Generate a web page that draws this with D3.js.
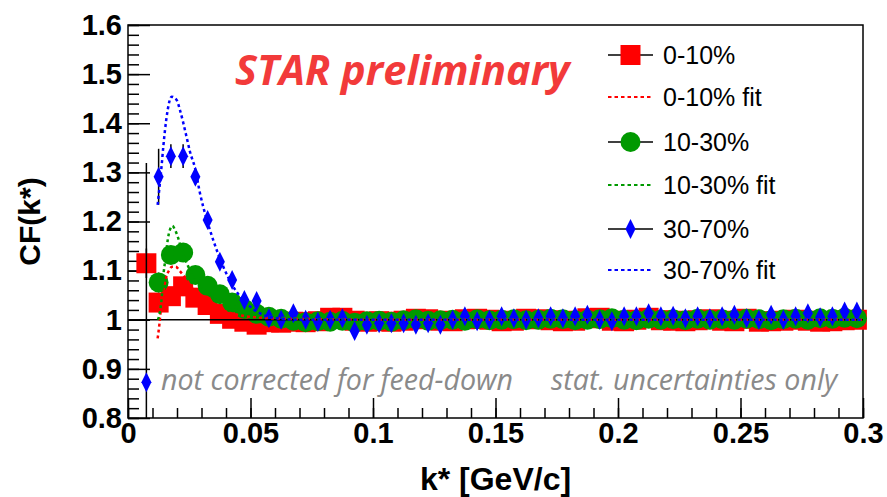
<!DOCTYPE html>
<html>
<head>
<meta charset="utf-8">
<script src="https://cdn.jsdelivr.net/npm/d3@7"></script>
<style>
  body { margin: 0; background: #fff; }
  svg { display: block; }
  .tick line { stroke: #000; stroke-width: 1.5; }
  .tick text { font-family: "Liberation Sans", Arial, sans-serif; font-weight: bold; font-size: 29px; fill: #000; }
</style>
</head>
<body>
<div id="chart"></div>
<script>
// bin centres of k* [GeV/c]
var kStar = [0.0075, 0.0125, 0.0175, 0.0225, 0.0275, 0.0325, 0.0375, 0.0425, 0.0475, 0.0525,
             0.0575, 0.0625, 0.0675, 0.0725, 0.0775, 0.0825, 0.0875, 0.0925, 0.0975, 0.1025,
             0.1075, 0.1125, 0.1175, 0.1225, 0.1275, 0.1325, 0.1375, 0.1425, 0.1475, 0.1525,
             0.1575, 0.1625, 0.1675, 0.1725, 0.1775, 0.1825, 0.1875, 0.1925, 0.1975, 0.2025,
             0.2075, 0.2125, 0.2175, 0.2225, 0.2275, 0.2325, 0.2375, 0.2425, 0.2475, 0.2525,
             0.2575, 0.2625, 0.2675, 0.2725, 0.2775, 0.2825, 0.2875, 0.2925, 0.2975];

// correlation function per centrality class
var cf0to10 = [1.115, 1.035, 1.048, 1.068, 1.045, 1.030, 1.012, 1.002, 0.996, 0.990,
               0.995, 0.994, 0.996, 0.995, 0.997, 1.004, 1.004, 0.998, 0.996, 0.997,
               0.996, 0.998, 1.002, 1.001, 0.998, 0.997, 1.001, 1.002, 1.000, 0.997,
               0.998, 1.002, 1.001, 0.999, 0.997, 0.998, 1.003, 1.004, 0.998, 0.997,
               1.000, 1.004, 0.999, 0.998, 0.997, 0.999, 1.001, 0.998, 0.997, 1.002,
               0.996, 0.997, 0.998, 1.000, 0.998, 0.996, 0.997, 0.999, 1.000];
var cf10to30 = [null, 1.076, 1.132, 1.137, 1.091, 1.069, 1.052, 1.035, 1.022, 1.012,
                1.006, 1.002, 0.998, 0.995, 0.997, 0.996, 0.998, 0.994, 0.997, 0.998,
                0.996, 0.999, 1.001, 0.998, 0.999, 1.000, 0.998, 1.001, 0.999, 1.000,
                1.001, 0.999, 1.000, 1.002, 1.001, 0.999, 1.000, 1.001, 1.003, 1.000,
                0.999, 1.002, 1.000, 1.001, 0.999, 1.002, 1.000, 1.001, 1.000, 1.002,
                1.001, 0.999, 1.001, 1.002, 1.000, 1.003, 1.002, 1.004, 1.003];
var cf30to70 = [0.873, 1.291, 1.333, 1.333, 1.291, 1.203, 1.118, 1.081, 1.040, 1.038,
                1.003, 1.000, 1.013, 1.000, 0.996, 1.000, 1.003, 0.977, 0.990, 0.993,
                0.993, 0.993, 0.990, 0.993, 0.990, 1.000, 1.007, 0.997, 1.000, 1.007,
                1.003, 1.000, 1.003, 1.007, 1.003, 1.007, 1.010, 1.000, 0.997, 1.007,
                1.007, 1.013, 1.007, 1.008, 1.003, 1.007, 1.003, 1.007, 1.010, 1.003,
                1.000, 1.010, 1.000, 1.007, 1.013, 1.005, 1.007, 1.017, 1.017];

// stat. errors of the first bins (the rest hide behind the markers)
var err0to10 = [0.030, 0.020, 0.016, 0.014, 0.012, 0.010, 0.009, 0.008];
var err10to30 = [null, 0.020, 0.014, 0.012, 0.010, 0.009, 0.008, 0.007];
var err30to70 = [0.446, 0.057, 0.024, 0.024, 0.016, 0.012, 0.010, 0.009];

// fit curves
var fit0to10K = [0.0121, 0.0128, 0.0136, 0.0145, 0.0155, 0.0167, 0.018, 0.0195, 0.021, 0.023,
                 0.0255, 0.028, 0.032, 0.036, 0.041, 0.047, 0.055, 0.065, 0.08, 0.1, 0.3];
var fit0to10V = [0.962, 0.990, 1.030, 1.060, 1.085, 1.100, 1.108, 1.108, 1.100, 1.088,
                 1.070, 1.055, 1.038, 1.025, 1.015, 1.008, 1.004, 1.002, 1.001, 1.000, 1.000];
var fit10to30K = [0.0122, 0.0128, 0.0138, 0.0144, 0.0154, 0.0162, 0.0171, 0.0181, 0.0192, 0.0205,
                  0.0219, 0.024, 0.0265, 0.029, 0.032, 0.036, 0.041, 0.047, 0.055, 0.065, 0.08, 0.1, 0.3];
var fit10to30V = [1.000, 1.010, 1.047, 1.088, 1.128, 1.162, 1.183, 1.191, 1.183, 1.166,
                  1.142, 1.115, 1.090, 1.072, 1.055, 1.040, 1.027, 1.016, 1.008, 1.003, 1.001, 1.000, 1.000];
var fit30to70K = [0.0121, 0.0138, 0.0144, 0.0151, 0.0162, 0.0178, 0.0199, 0.0212, 0.0226, 0.024,
                  0.0253, 0.0274, 0.0294, 0.0307, 0.0314, 0.0348, 0.0389, 0.043, 0.0485, 0.0539,
                  0.0607, 0.07, 0.085, 0.1, 0.3];
var fit30to70V = [1.234, 1.318, 1.352, 1.386, 1.427, 1.454, 1.447, 1.427, 1.400, 1.370,
                  1.342, 1.308, 1.257, 1.230, 1.217, 1.162, 1.108, 1.067, 1.033, 1.013,
                  1.003, 1.000, 1.000, 1.000, 1.000];

var legendLabels = ["0-10%", "0-10% fit", "10-30%", "10-30% fit", "30-70%", "30-70% fit"];
var xTicks = [0, 0.05, 0.1, 0.15, 0.2, 0.25, 0.3];
var yTicks = [0.8, 0.9, 1, 1.1, 1.2, 1.3, 1.4, 1.5, 1.6];

var width = 887, height = 497;
var plot = {left: 128, right: 863, top: 25, bottom: 418};

var svg = d3.select("#chart").append("svg")
    .attr("width", width)
    .attr("height", height);

var x = d3.scaleLinear().domain([0, 0.3]).range([plot.left, plot.right]);
var y = d3.scaleLinear().domain([0.8, 1.6]).range([plot.bottom, plot.top]);

svg.append("clipPath").attr("id", "clip")
  .append("rect")
    .attr("x", plot.left).attr("y", plot.top)
    .attr("width", plot.right - plot.left).attr("height", plot.bottom - plot.top);

var fmt = function(d) { return String(+d.toFixed(2)); };

// axes: minor ticks first, then major with labels (ticks point into the frame)
svg.append("g")
    .attr("transform", "translate(0," + plot.bottom + ")")
    .call(d3.axisBottom(x).tickValues(d3.range(0, 0.3001, 0.01)).tickSize(-10).tickFormat(""))
    .call(function(g) { g.select(".domain").remove(); });
svg.append("g")
    .attr("transform", "translate(0," + plot.bottom + ")")
    .call(d3.axisBottom(x).tickValues(xTicks).tickSize(-20).tickPadding(4).tickFormat(fmt))
    .call(function(g) { g.select(".domain").remove(); });
svg.append("g")
    .attr("transform", "translate(" + plot.left + ",0)")
    .call(d3.axisLeft(y).tickValues(d3.range(0.8, 1.6001, 0.02)).tickSize(-11).tickFormat(""))
    .call(function(g) { g.select(".domain").remove(); });
svg.append("g")
    .attr("transform", "translate(" + plot.left + ",0)")
    .call(d3.axisLeft(y).tickValues(yTicks).tickSize(-22).tickPadding(6).tickFormat(fmt))
    .call(function(g) { g.select(".domain").remove(); });

svg.append("rect")
    .attr("x", plot.left).attr("y", plot.top)
    .attr("width", plot.right - plot.left).attr("height", plot.bottom - plot.top)
    .attr("fill", "none").attr("stroke", "#000").attr("stroke-width", 1.5);

// axis titles
svg.append("text")
    .attr("x", (plot.left + plot.right) / 2).attr("y", 490)
    .attr("text-anchor", "middle")
    .style("font", "bold 32px 'Liberation Sans', Arial, sans-serif")
    .text("k* [GeV/c]");
svg.append("text")
    .attr("transform", "translate(39.5," + (plot.top + plot.bottom) / 2 + ") rotate(-90)")
    .attr("text-anchor", "middle")
    .style("font", "bold 30px 'Liberation Sans', Arial, sans-serif")
    .text("CF(k*)");

var series = [
  {name: "0-10%", vals: cf0to10, errs: err0to10, color: "#ff0000", shape: "square",
   fitK: fit0to10K, fitV: fit0to10V},
  {name: "10-30%", vals: cf10to30, errs: err10to30, color: "#009900", shape: "circle",
   fitK: fit10to30K, fitV: fit10to30V},
  {name: "30-70%", vals: cf30to70, errs: err30to70, color: "#0000ff", shape: "diamond",
   fitK: fit30to70K, fitV: fit30to70V}
];

function markerPath(shape) {
  if (shape === "square") return "M-10,-10H10V10H-10Z";
  if (shape === "circle") return "M-10,0A10,10 0 1,0 10,0A10,10 0 1,0 -10,0Z";
  return "M0,-10L5,0L0,10L-5,0Z";
}

var dataLayer = svg.append("g");

series.forEach(function(s) {
    var pts = kStar.map(function(k, i) { return {k: k, v: s.vals[i], e: s.errs[i]}; })
        .filter(function(d) { return d.v != null; });

    // error bars
    dataLayer.append("g").attr("clip-path", "url(#clip)")
      .selectAll("line")
      .data(pts.filter(function(d) { return d.e != null; }))
      .enter().append("line")
        .attr("x1", function(d) { return x(d.k); })
        .attr("x2", function(d) { return x(d.k); })
        .attr("y1", function(d) { return y(d.v - d.e); })
        .attr("y2", function(d) { return y(d.v + d.e); })
        .attr("stroke", "#000").attr("stroke-width", 1.5);

    dataLayer.append("g")
      .selectAll("path")
      .data(pts)
      .enter().append("path")
        .attr("d", markerPath(s.shape))
        .attr("transform", function(d) { return "translate(" + x(d.k) + "," + y(d.v) + ")"; })
        .attr("fill", s.color);
});

// reference line at CF = 1
svg.append("line")
    .attr("x1", x(0)).attr("x2", x(0.3))
    .attr("y1", y(1)).attr("y2", y(1))
    .attr("stroke", "#000").attr("stroke-width", 1.5);

// fits
var line = d3.line()
    .x(function(d) { return x(d[0]); })
    .y(function(d) { return y(d[1]); })
    .curve(d3.curveMonotoneX);

series.forEach(function(s) {
    svg.append("path")
        .datum(d3.zip(s.fitK, s.fitV))
        .attr("clip-path", "url(#clip)")
        .attr("d", line)
        .attr("fill", "none")
        .attr("stroke", s.color)
        .attr("stroke-width", 2.5)
        .attr("stroke-dasharray", "3,3");
});

// legend
var rowY = [55, 97, 142, 185, 229, 270];
var legend = svg.append("g");
legendLabels.forEach(function(label, i) {
    var s = series[Math.floor(i / 2)];
    var isFit = i % 2 === 1;
    if (isFit) {
        legend.append("line")
            .attr("x1", 608).attr("x2", 653).attr("y1", rowY[i]).attr("y2", rowY[i])
            .attr("stroke", s.color).attr("stroke-width", 2)
            .attr("stroke-dasharray", "3.5,3");
    } else {
        legend.append("line")
            .attr("x1", 608).attr("x2", 653).attr("y1", rowY[i]).attr("y2", rowY[i])
            .attr("stroke", "#000").attr("stroke-width", 1.5);
        legend.append("path")
            .attr("d", markerPath(s.shape))
            .attr("transform", "translate(630.5," + rowY[i] + ")")
            .attr("fill", s.color);
    }
    legend.append("text")
        .attr("x", 663).attr("y", rowY[i]).attr("dy", "0.35em")
        .style("font", "25px 'Liberation Sans', Arial, sans-serif")
        .text(label);
});

// annotations
svg.append("text")
    .attr("x", 235).attr("y", 85)
    .style("font", "italic bold 41.5px 'Open Sans', sans-serif")
    .attr("fill", "#f23a3a")
    .text("STAR preliminary");
svg.append("text")
    .attr("x", 161).attr("y", 390)
    .style("font", "italic 28.6px 'Open Sans', sans-serif")
    .attr("fill", "#8a8a8a")
    .text("not corrected for feed-down");
svg.append("text")
    .attr("x", 551).attr("y", 390)
    .style("font", "italic 28.6px 'Open Sans', sans-serif")
    .attr("fill", "#8a8a8a")
    .text("stat. uncertainties only");
</script>
</body>
</html>
